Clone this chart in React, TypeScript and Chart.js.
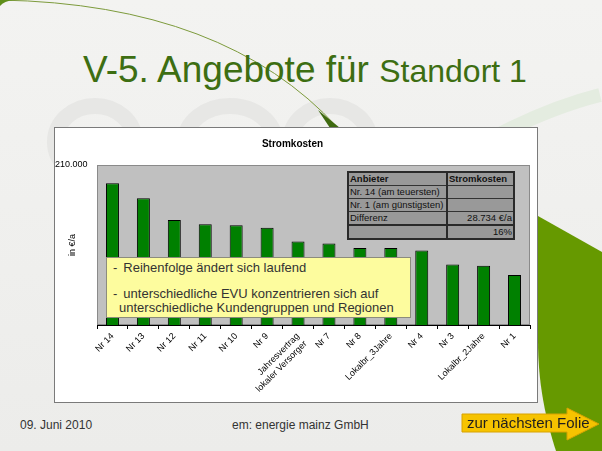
import React, { useEffect, useRef } from "react";
import { Chart, registerables } from "chart.js";

Chart.register(...registerables);

// ---------- data ----------
const categories: (string | string[])[] = [
  "Nr 14",
  "Nr 13",
  "Nr 12",
  "Nr 11",
  "Nr 10",
  "Nr 9",
  ["Jahresvertrag", "lokaler Versorger"],
  "Nr 7",
  "Nr 8",
  "Lokalbr_3Jahre",
  "Nr 4",
  "Nr 3",
  "Lokalbr_2Jahre",
  "Nr 1",
];
const stromkosten = [
  204300, 199600, 192800, 191500, 191200, 190400, 186100, 185500, 184100, 184100,
  183300, 178900, 178500, 175600,
];
const yMin = 160000;
const yMax = 210000;
const yTickValues = [210000];

const chartTitle = "Stromkosten";
const yAxisTitle = "in €/a";

const tableHeader = ["Anbieter", "Stromkosten"];
const tableRows = [
  ["Nr. 14 (am teuersten)", ""],
  ["Nr. 1 (am günstigsten)", ""],
  ["Differenz", "28.734 €/a"],
  ["", "16%"],
];

const noteLines = [
  { bullet: "-", text: "Reihenfolge ändert sich laufend" },
  { bullet: "-", text: "unterschiedliche EVU konzentrieren sich auf" },
  { bullet: "", text: "unterschiedliche Kundengruppen und Regionen" },
];

const slideTitleBig = "V-5. Angebote für";
const slideTitleSmall = "Standort 1";
const footerDate = "09. Juni 2010";
const footerCompany = "em: energie mainz GmbH";
const nextSlide = "zur nächsten Folie";

// ---------- helpers ----------
const FONT = '"Liberation Sans", Arial, Helvetica, sans-serif';
const fmtDE = (v: number) =>
  String(Math.round(v)).replace(/\B(?=(\d{3})+(?!\d))/g, ".");

const plotBg = {
  id: "plotBg",
  beforeDraw(chart: any) {
    const { ctx, chartArea } = chart;
    if (!chartArea) return;
    ctx.save();
    ctx.fillStyle = "#c0c0c0";
    ctx.fillRect(
      chartArea.left,
      chartArea.top,
      chartArea.right - chartArea.left,
      chartArea.bottom - chartArea.top
    );
    ctx.strokeStyle = "#8a8a8a";
    ctx.lineWidth = 1;
    ctx.strokeRect(
      chartArea.left + 0.5,
      chartArea.top + 0.5,
      chartArea.right - chartArea.left - 1,
      chartArea.bottom - chartArea.top - 1
    );
    ctx.restore();
  },
};

function StromChart() {
  const ref = useRef<HTMLCanvasElement | null>(null);
  useEffect(() => {
    if (!ref.current) return;
    const chart = new Chart(ref.current, {
      type: "bar",
      data: {
        labels: categories as any,
        datasets: [
          {
            label: chartTitle,
            data: stromkosten,
            backgroundColor: "#008000",
            borderColor: "#000000",
            borderWidth: 1,
            categoryPercentage: 1,
            barPercentage: 0.42,
          },
        ],
      },
      options: {
        animation: false,
        responsive: true,
        maintainAspectRatio: false,
        layout: { padding: { left: 0, right: 7, top: 0, bottom: 0 } },
        plugins: {
          legend: { display: false },
          tooltip: { enabled: false },
          title: {
            display: true,
            text: chartTitle,
            color: "#000",
            font: { family: FONT, size: 10, weight: "bold" },
            padding: { top: 10, bottom: 15 },
          },
        },
        scales: {
          x: {
            offset: true,
            grid: {
              display: true,
              offset: true,
              drawOnChartArea: false,
              drawTicks: true,
              tickLength: 4,
              color: "#000",
            },
            border: { display: true, color: "#000", width: 1 },
            ticks: {
              autoSkip: false,
              maxRotation: 45,
              minRotation: 45,
              padding: 2,
              color: "#000",
              font: { family: FONT, size: 9 },
            },
            afterFit: (s: any) => {
              s.height = 77;
            },
          } as any,
          y: {
            min: yMin,
            max: yMax,
            grid: { display: false },
            border: { display: false },
            afterBuildTicks: (s: any) => {
              s.ticks = yTickValues.map((v) => ({ value: v }));
            },
            ticks: {
              crossAlign: "far",
              padding: 0,
              color: "#000",
              font: { family: FONT, size: 9 },
              callback: (v: any) => fmtDE(Number(v)),
            },
            title: {
              display: true,
              text: yAxisTitle,
              color: "#000",
              font: { family: FONT, size: 9 },
              padding: { top: 12, bottom: 0 },
            },
            afterFit: (s: any) => {
              s.width = 42;
            },
          } as any,
        },
      },
      plugins: [plotBg],
    });
    return () => chart.destroy();
  }, []);
  return <canvas ref={ref} />;
}

export default function App() {
  const cellBase: React.CSSProperties = {
    border: "1px solid #333",
    padding: "0 1px",
    height: 12,
    lineHeight: "12px",
    whiteSpace: "nowrap",
    overflow: "hidden",
  };
  return (
    <div
      style={{
        position: "fixed",
        left: 0,
        top: 0,
        width: 602,
        height: 451,
        overflow: "hidden",
        background: "linear-gradient(180deg,#f3f3f1 0%,#efefed 60%,#ececea 100%)",
        fontFamily: FONT,
      }}
    >
      {/* decorative background */}
      <svg
        width={602}
        height={451}
        style={{ position: "absolute", left: 0, top: 0 }}
      >
        <g fill="none" stroke="#e7e7e5" strokeWidth={16}>
          <ellipse cx={95} cy={142} rx={40} ry={36} />
          <ellipse cx={230} cy={142} rx={45} ry={36} />
          <ellipse cx={330} cy={142} rx={40} ry={36} />
        </g>
        <path
          d="M470,150 Q540,110 600,95"
          stroke="#e4ece0"
          strokeWidth={14}
          fill="none"
        />
        <path
          d="M538,216 L602,252 L602,451 L556,451 C546,420 538,385 538,340 Z"
          fill="#669900"
        />
        <path d="M0,0 Q225,4 338,128" stroke="#7d9b3c" strokeWidth={1} fill="none" />
        <path d="M0,0 L14,0 Q4,1 0,6 Z" fill="#5f8f1a" />
        <path d="M318,110 L340,128 L330,128 Z" fill="#3f6a10" />
      </svg>

      {/* slide title */}
      <div
        style={{
          position: "absolute",
          left: 83,
          top: 52,
          whiteSpace: "nowrap",
          color: "#3d6e12",
          lineHeight: "36px",
        }}
      >
        <span style={{ fontSize: 37 }}>{slideTitleBig} </span>
        <span style={{ fontSize: 32 }}>{slideTitleSmall}</span>
      </div>

      {/* chart frame */}
      <div
        style={{
          position: "absolute",
          left: 54,
          top: 127,
          width: 484,
          height: 276,
          boxSizing: "border-box",
          border: "1px solid #7a7a7a",
          background: "#fff",
        }}
      />
      <div
        style={{
          position: "absolute",
          left: 55,
          top: 128,
          width: 482,
          height: 274,
        }}
      >
        <StromChart />
      </div>

      {/* data table overlay */}
      <table
        style={{
          position: "absolute",
          left: 347,
          top: 171,
          width: 166,
          borderCollapse: "collapse",
          border: "2px solid #2a2a2a",
          background: "#999999",
          fontSize: 9.5,
          color: "#111",
          tableLayout: "fixed",
        }}
      >
        <colgroup>
          <col style={{ width: 99 }} />
          <col style={{ width: 67 }} />
        </colgroup>
        <tbody>
          <tr>
            {tableHeader.map((h, i) => (
              <td
                key={i}
                style={{
                  ...cellBase,
                  fontWeight: "bold",
                  textAlign: "left",
                  borderRight: i === 0 ? "2px solid #2a2a2a" : cellBase.border,
                }}
              >
                {h}
              </td>
            ))}
          </tr>
          {tableRows.map((r, ri) => (
            <tr key={ri}>
              {r.map((c, ci) => (
                <td
                  key={ci}
                  style={{
                    ...cellBase,
                    textAlign: ci === 0 ? "left" : "right",
                    borderRight: ci === 0 ? "2px solid #2a2a2a" : cellBase.border,
                    borderTop:
                      ri === tableRows.length - 1 ? "2px solid #2a2a2a" : cellBase.border,
                  }}
                >
                  {c}
                </td>
              ))}
            </tr>
          ))}
        </tbody>
      </table>

      {/* note box */}
      <div
        style={{
          position: "absolute",
          left: 106,
          top: 257,
          width: 305,
          height: 61,
          boxSizing: "border-box",
          background: "#fdfc9e",
          border: "1px solid #8c8c7c",
          color: "#333",
          fontSize: 13,
        }}
      >
        {noteLines.map((l, i) => (
          <div
            key={i}
            style={{
              position: "absolute",
              left: l.bullet ? 6 : 12,
              top: [2, 28, 42][i],
              lineHeight: "15px",
              whiteSpace: "nowrap",
            }}
          >
            {l.bullet ? (
              <>
                <span>{l.bullet}</span>
                <span style={{ marginLeft: 6 }}>{l.text}</span>
              </>
            ) : (
              l.text
            )}
          </div>
        ))}
      </div>

      {/* footer */}
      <div
        style={{
          position: "absolute",
          left: 20,
          top: 418,
          fontSize: 12,
          color: "#333",
          whiteSpace: "nowrap",
        }}
      >
        {footerDate}
      </div>
      <div
        style={{
          position: "absolute",
          left: 232,
          top: 418,
          fontSize: 12,
          color: "#333",
          whiteSpace: "nowrap",
        }}
      >
        {footerCompany}
      </div>

      {/* next slide arrow */}
      <svg
        width={602}
        height={451}
        style={{ position: "absolute", left: 0, top: 0, pointerEvents: "none" }}
      >
        <path
          d="M462,414 L567,414 L567,408 L599,424 L567,440 L567,432 L462,432 Z"
          fill="#f6c300"
          stroke="#d8a200"
          strokeWidth={1}
        />
      </svg>
      <div
        style={{
          position: "absolute",
          left: 467,
          top: 414,
          fontSize: 15,
          lineHeight: "18px",
          color: "#1e1e1e",
          whiteSpace: "nowrap",
        }}
      >
        {nextSlide}
      </div>
    </div>
  );
}
